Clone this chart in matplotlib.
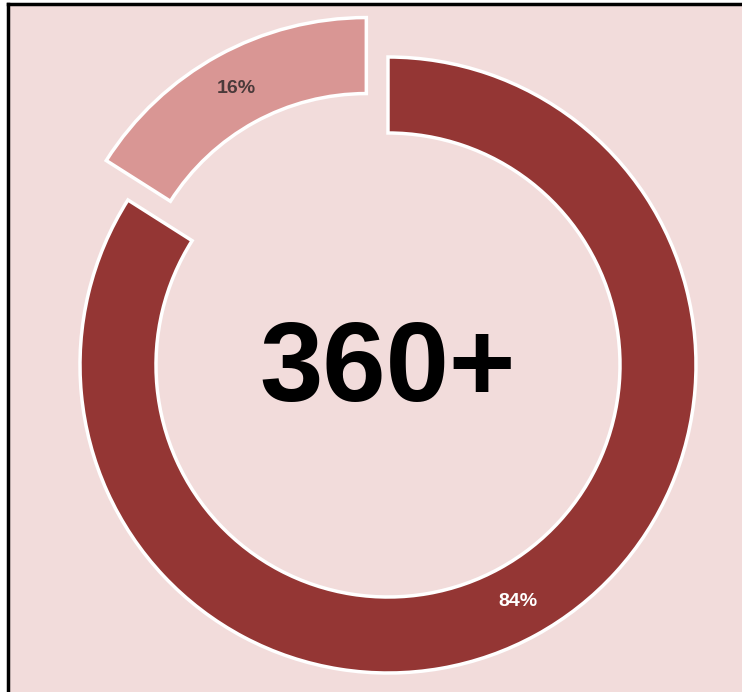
import matplotlib.pyplot as plt

# ── Data ────────────────────────────────────────────────────────────────────
labels = ['Minority', 'Majority']
shares = [16, 84]
colors = ['#D99694', '#943634']
explode = [45, 0]   # pixel offset (pie radius is in pixels here)
center_text = '360+'

bg = '#F2DCDB'

# ── Figure ──────────────────────────────────────────────────────────────────
# axes run past the right and bottom figure edges so only top/left frame show
fig = plt.figure(figsize=(7.42, 6.92), dpi=100, facecolor='white')
ax = fig.add_axes([8 / 742, -10 / 692, 744 / 742, 698 / 692])
ax.set_facecolor(bg)

wedges, texts, autotexts = ax.pie(
    shares,
    colors=colors,
    explode=explode,
    startangle=90,
    counterclock=True,
    center=(388, 327),
    radius=308,
    autopct='%d%%',
    pctdistance=0.877,
    wedgeprops=dict(width=76, edgecolor='white', linewidth=2.5),
    frame=True,
)
ax.set_xlim(8, 752)
ax.set_ylim(-10, 688)
ax.set_aspect('auto')
ax.set_xticks([])
ax.set_yticks([])
for side in ['right', 'bottom']:
    ax.spines[side].set_visible(False)
for side in ['top', 'left']:
    ax.spines[side].set_linewidth(2.5)
    ax.spines[side].set_color('black')

autotexts[0].set_color('#4a3a3a')
autotexts[1].set_color('white')
for t in autotexts:
    t.set_fontsize(14)
    t.set_fontweight('bold')
    t.set_family('Liberation Sans')

ax.text(388, 320, center_text, ha='center', va='center',
        fontsize=82, fontweight='bold', family='Liberation Sans', color='black')

fig.savefig('out.png', dpi=100, facecolor='white')
